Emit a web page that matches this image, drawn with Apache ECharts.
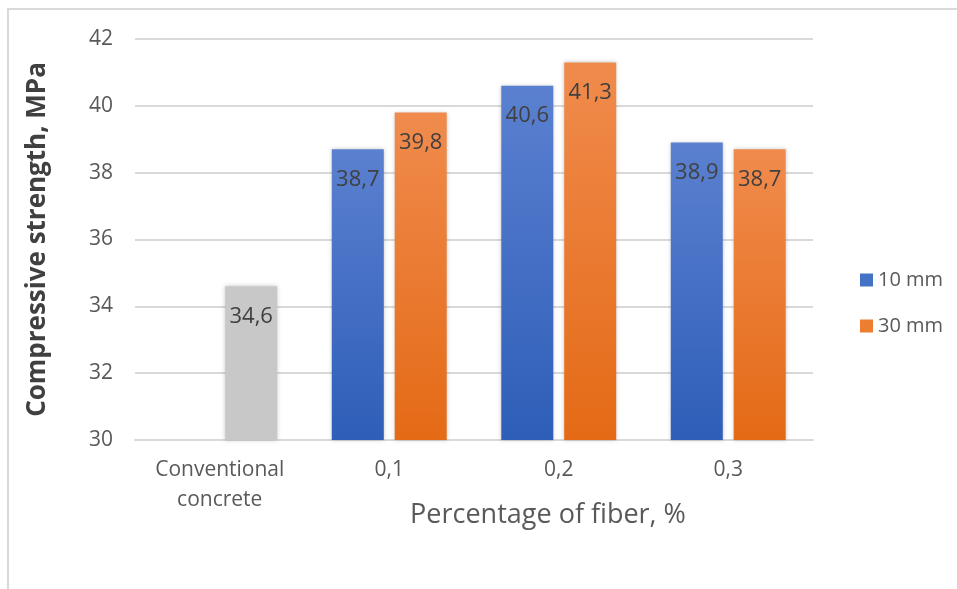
<!DOCTYPE html>
<html>
<head>
<meta charset="utf-8">
<script src="https://cdn.jsdelivr.net/npm/echarts@6/dist/echarts.min.js"></script>
<style>
  html, body { margin: 0; padding: 0; background: #fff; }
  #chart { width: 957px; height: 589px; }
</style>
</head>
<body>
<div id="chart"></div>
<script>
// Compressive strength by fiber content and fiber length
const categories = ['Conventional\nconcrete', '0,1', '0,2', '0,3'];
const fiber10mm = [null, 38.7, 40.6, 38.9];
const fiber30mm = [34.6, 39.8, 41.3, 38.7];
const seriesNames = ['10 mm', '30 mm'];
const yTicks = { min: 30, max: 42, step: 2 };
const xTitle = 'Percentage of fiber, %';
const yTitle = 'Compressive strength, MPa';

const FONT = '"Open Sans", "DejaVu Sans", sans-serif';

function vgrad(top, bottom) {
  return new echarts.graphic.LinearGradient(0, 0, 0, 1, [
    { offset: 0, color: top },
    { offset: 1, color: bottom }
  ]);
}
const blueFill = vgrad('#5b80d0', '#2e5eb8');
const orangeFill = vgrad('#f08b4d', '#e46a16');
const greyFill = '#c8c8c8';

const fmt = p => (p.value == null ? '' : String(p.value).replace('.', ','));

// value label centred horizontally, a fixed distance below the bar top
const labelStyle = {
  show: true,
  position: ['50%', 30],
  align: 'center',
  verticalAlign: 'middle',
  color: '#404040',
  fontFamily: FONT,
  fontSize: 22,
  formatter: fmt
};

const barShadow = {
  shadowBlur: 4,
  shadowColor: 'rgba(0,0,0,0.22)',
  shadowOffsetX: 0,
  shadowOffsetY: 0
};

const chart = echarts.init(document.getElementById('chart'), null, { renderer: 'canvas' });
chart.setOption({
  animation: false,
  backgroundColor: '#ffffff',
  graphic: [
    {
      type: 'rect',
      shape: { x: 8, y: 9, width: 1200, height: 1000 },
      style: { fill: 'none', stroke: '#d9d9d9', lineWidth: 2 },
      silent: true,
      z: -1
    },
    {
      // x-axis title sits right of the plot centre
      type: 'text',
      x: 548,
      y: 515,
      style: {
        text: xTitle,
        x: 0,
        y: 0,
        align: 'center',
        verticalAlign: 'middle',
        fill: '#595959',
        font: '27px ' + FONT
      },
      silent: true
    }
  ],
  grid: { left: 135, right: 144, top: 39, bottom: 149 },
  legend: {
    orient: 'vertical',
    left: 855,
    top: 265,
    itemWidth: 13,
    itemHeight: 13,
    itemGap: 26,
    icon: 'rect',
    textStyle: { color: '#595959', fontFamily: FONT, fontSize: 20 },
    data: [
      { name: seriesNames[0], itemStyle: { color: '#4472c4' } },
      { name: seriesNames[1], itemStyle: { color: '#ed7d31' } }
    ]
  },
  xAxis: {
    type: 'category',
    data: categories,
    axisLine: { show: true, lineStyle: { color: '#d9d9d9', width: 2 } },
    axisTick: { show: false },
    axisLabel: {
      color: '#595959',
      fontFamily: FONT,
      fontSize: 21,
      lineHeight: 30,
      margin: 15
    }
  },
  yAxis: {
    type: 'value',
    min: yTicks.min,
    max: yTicks.max,
    interval: yTicks.step,
    name: yTitle,
    nameLocation: 'middle',
    nameGap: 84,
    nameTextStyle: { color: '#404040', fontFamily: FONT, fontSize: 26, fontWeight: 'bold' },
    axisLine: { show: false },
    axisTick: { show: false },
    axisLabel: { color: '#595959', fontFamily: FONT, fontSize: 21, margin: 22 },
    splitLine: { lineStyle: { color: '#d9d9d9', width: 2 } }
  },
  series: [
    {
      name: seriesNames[0],
      type: 'bar',
      barWidth: 52,
      barGap: '21%',
      data: fiber10mm,
      itemStyle: Object.assign({ color: blueFill }, barShadow),
      label: labelStyle
    },
    {
      name: seriesNames[1],
      type: 'bar',
      barWidth: 52,
      barGap: '21%',
      data: fiber30mm.map((v, i) => i === 0
        ? { value: v, itemStyle: { color: greyFill } }
        : v),
      itemStyle: Object.assign({ color: orangeFill }, barShadow),
      label: labelStyle
    }
  ]
});
</script>
</body>
</html>
